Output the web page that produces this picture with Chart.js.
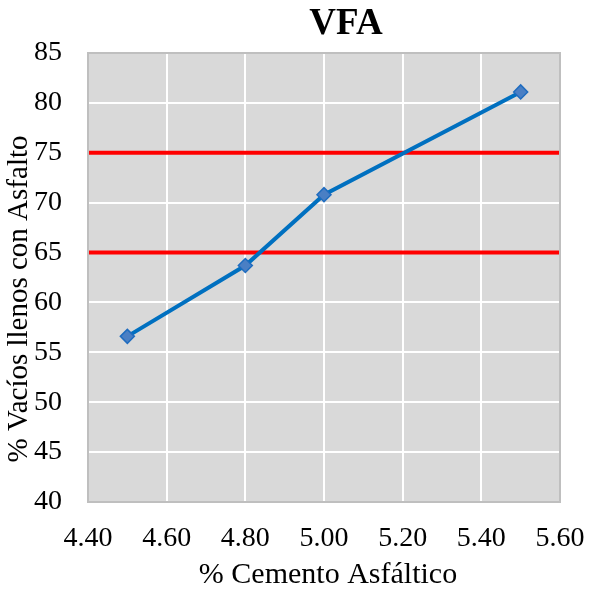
<!DOCTYPE html>
<html>
<head>
<meta charset="utf-8">
<script src="https://cdn.jsdelivr.net/npm/chart.js@4"></script>
<style>
  body { margin: 0; background: #fff; }
  canvas { display: block; }
</style>
</head>
<body>
<canvas id="vfaChart" width="590" height="593"></canvas>
<script>
(function () {
    'use strict';

    // data
    const cementoAsfaltico = [4.50, 4.80, 5.00, 5.50];
    const vfaValores = [56.6, 63.7, 70.8, 81.1];
    const limiteInferior = 65;
    const limiteSuperior = 75;
    const xTicks = [4.40, 4.60, 4.80, 5.00, 5.20, 5.40, 5.60];
    const yTicks = [40, 45, 50, 55, 60, 65, 70, 75, 80, 85];

    const titulo = "VFA";
    const tituloX = "% Cemento Asfáltico";
    const tituloY = "% Vacíos llenos con Asfalto";

    const FONT = '"Liberation Serif", "Times New Roman", serif';

    const puntos = cementoAsfaltico.map((x, i) => ({ x: x, y: vfaValores[i] }));
    const xMin = xTicks[0], xMax = xTicks[xTicks.length - 1];
    const lineaLimite = v => [{ x: xMin, y: v }, { x: xMax, y: v }];

    // gray plot background + border, and the titles
    const plotDeco = {
        id: "plotDeco",
        beforeDraw(chart) {
            const { ctx, chartArea: a } = chart;
            ctx.save();
            ctx.fillStyle = "#d9d9d9";
            ctx.fillRect(a.left, a.top, a.right - a.left, a.bottom - a.top);
            ctx.restore();
        },
        afterDatasetsDraw(chart) {
            const { ctx, chartArea: a } = chart;
            ctx.save();
            ctx.strokeStyle = "#bfbfbf";
            ctx.lineWidth = 2;
            ctx.strokeRect(a.left, a.top, a.right - a.left, a.bottom - a.top);
            ctx.restore();
        },
        afterDraw(chart) {
            const { ctx } = chart;
            ctx.save();
            ctx.fillStyle = "#000";
            ctx.textAlign = "center";
            ctx.textBaseline = "middle";

            ctx.font = "bold 37px " + FONT;
            ctx.fillText(titulo, 346, 24);

            ctx.font = "30px " + FONT;
            ctx.fillText(tituloX, 328, 575);

            ctx.font = "29px " + FONT;
            ctx.translate(19, 299);
            ctx.rotate(-Math.PI / 2);
            ctx.fillText(tituloY, 0, 0);
            ctx.restore();
        }
    };

    new Chart(document.getElementById("vfaChart"), {
        type: "scatter",
        data: {
            datasets: [
                {
                    label: "VFA",
                    data: puntos,
                    showLine: true,
                    borderColor: "#0070c0",
                    borderWidth: 4,
                    pointStyle: "rectRot",
                    pointRadius: 7,
                    pointBackgroundColor: "#4a7fc4",
                    pointBorderColor: "#1f6cbf",
                    pointBorderWidth: 1.5,
                    order: 0
                },
                {
                    label: "Límite superior",
                    data: lineaLimite(limiteSuperior),
                    showLine: true,
                    borderColor: "#ff0000",
                    borderWidth: 4,
                    pointRadius: 0,
                    order: 1
                },
                {
                    label: "Límite inferior",
                    data: lineaLimite(limiteInferior),
                    showLine: true,
                    borderColor: "#ff0000",
                    borderWidth: 4,
                    pointRadius: 0,
                    order: 1
                }
            ]
        },
        options: {
            responsive: false,
            animation: false,
            layout: { padding: { top: 53, right: 30, left: 0, bottom: 0 } },
            plugins: {
                legend: { display: false },
                tooltip: { enabled: false },
                title: { display: false }
            },
            scales: {
                x: {
                    type: "linear",
                    min: xMin,
                    max: xMax,
                    afterBuildTicks: s => { s.ticks = xTicks.map(v => ({ value: v })); },
                    afterFit: s => { s.height = 91; s.paddingLeft = 0; s.paddingRight = 0; },
                    grid: { color: "#ffffff", lineWidth: 2, drawTicks: false },
                    border: { display: false },
                    ticks: {
                        padding: 20,
                        color: "#000",
                        font: { family: FONT, size: 28 },
                        callback: v => Number(v).toFixed(2)
                    }
                },
                y: {
                    min: yTicks[0],
                    max: yTicks[yTicks.length - 1],
                    afterBuildTicks: s => { s.ticks = yTicks.map(v => ({ value: v })); },
                    afterFit: s => { s.width = 88; s.paddingTop = 0; s.paddingBottom = 0; },
                    grid: { color: "#ffffff", lineWidth: 2, drawTicks: false },
                    border: { display: false },
                    ticks: {
                        padding: 26,
                        color: "#000",
                        font: { family: FONT, size: 28 }
                    }
                }
            }
        },
        plugins: [plotDeco]
    });
})();
</script>
</body>
</html>
